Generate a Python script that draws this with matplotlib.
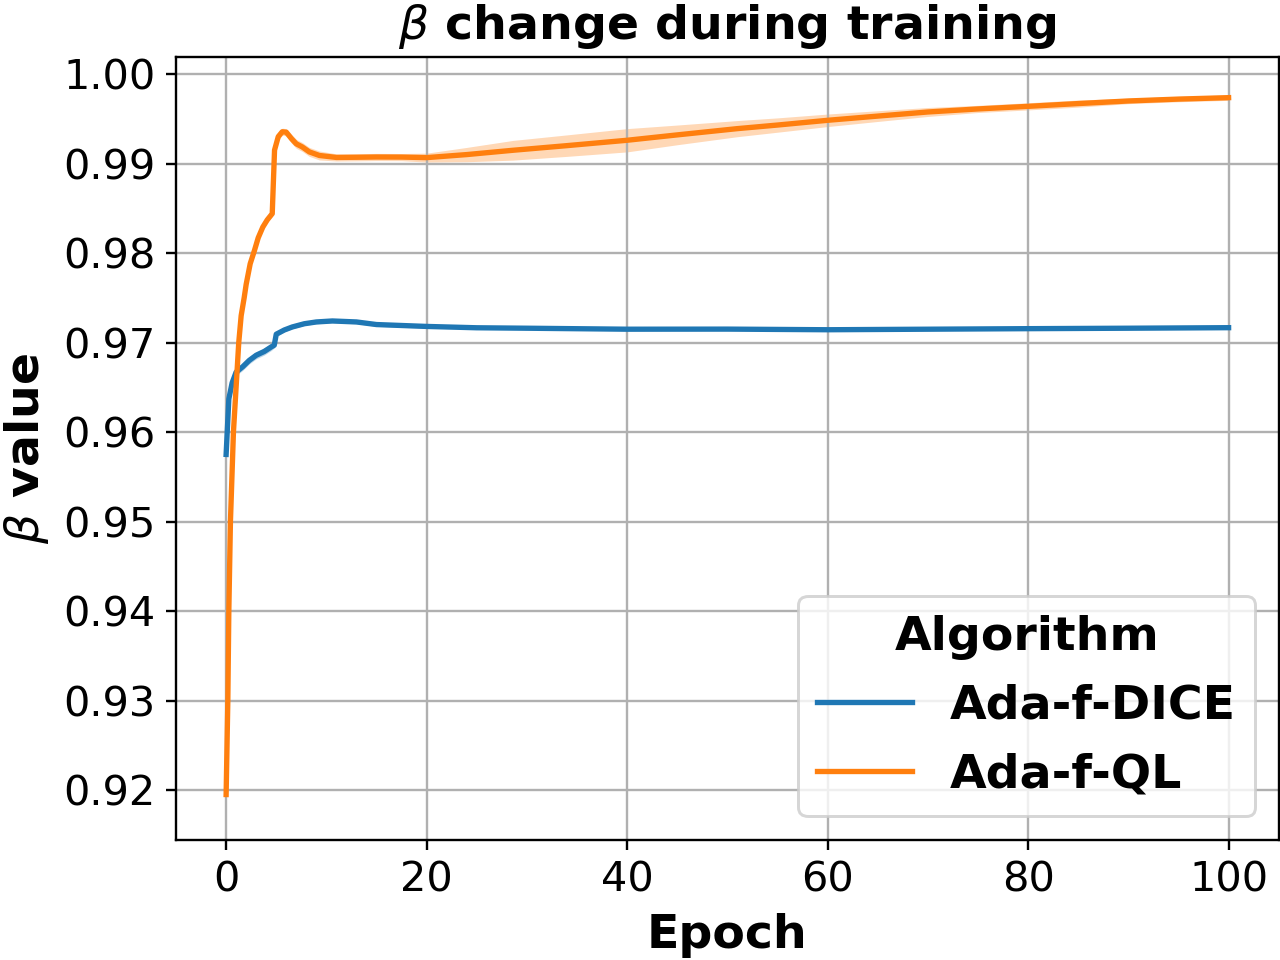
import numpy as np
import matplotlib
matplotlib.use('Agg')
import matplotlib.pyplot as plt

# Ada-f-DICE: media de beta y semiancho de la banda
dice_epoch = [0, 0.27, 0.6, 1.0, 1.66, 2.3, 3.0, 3.8, 4.5, 4.8, 5.0, 5.8, 6.6, 7.8, 9.0,
              10.6, 13, 15, 20, 25, 30, 40, 50, 60, 70, 80, 90, 100]
dice_beta = [0.9575, 0.9637, 0.9655, 0.9667, 0.9673, 0.9680, 0.96858, 0.9690, 0.96951,
             0.9697, 0.97093, 0.9714, 0.97174, 0.9721, 0.97230, 0.97241, 0.9723, 0.97201,
             0.9718, 0.97165, 0.97160, 0.97149, 0.9715, 0.97143, 0.97149, 0.97155,
             0.9716, 0.97166]
dice_spread = [0.0001, 0.0002, 0.0003, 0.0004, 0.0004, 0.0004, 0.0004, 0.0004, 0.0004,
               0.0003, 0.0003, 0.0002, 0.0002, 0.0002, 0.0002, 0.0002, 0.0002, 0.0002,
               0.0002, 0.0001, 0.0001, 0.0001, 0.0001, 0.0001, 0.0001, 0.0001, 0.0001,
               0.0001]

# Ada-f-QL
ql_epoch = [0, 0.17, 0.27, 0.43, 0.73, 1.26, 1.5, 1.8, 2.0, 2.4, 2.83, 3.2, 3.66, 4.1,
            4.6, 4.83, 5.2, 5.6, 6.0, 6.5, 7.0, 7.6, 8.3, 9.3, 11, 13, 15, 17.5, 20, 24,
            28.6, 34, 40, 45, 51, 55, 60, 65, 70, 75, 80, 85, 90, 95, 100]
ql_beta = [0.9195, 0.930, 0.940, 0.950, 0.960, 0.970, 0.9730, 0.9750, 0.9765, 0.9788,
           0.9803, 0.9817, 0.9829, 0.9837, 0.9844, 0.9915, 0.9930, 0.99355, 0.9935,
           0.9928, 0.9922, 0.99185, 0.9913, 0.9909, 0.99068, 0.99070, 0.99073, 0.99072,
           0.99066, 0.9910, 0.99148, 0.9920, 0.99260, 0.9932, 0.99390, 0.9943, 0.99483,
           0.9953, 0.99576, 0.9961, 0.99639, 0.9967, 0.99699, 0.9972, 0.99736]
ql_spread = [0.0001, 0.0001, 0.0001, 0.0001, 0.0001, 0.0001, 0.0002, 0.0002, 0.0002,
             0.0002, 0.0003, 0.0003, 0.0003, 0.0003, 0.0003, 0.0003, 0.0004, 0.0004,
             0.0004, 0.0005, 0.0005, 0.0005, 0.0005, 0.0005, 0.0004, 0.0004, 0.0004,
             0.0004, 0.0005, 0.0008, 0.0011, 0.0012, 0.0013, 0.0011, 0.0009, 0.0008,
             0.0007, 0.0006, 0.0005, 0.0004, 0.0004, 0.0004, 0.0003, 0.0003, 0.0003]

series = [('Ada-f-DICE', dice_epoch, dice_beta, dice_spread, '#1f77b4'),
          ('Ada-f-QL', ql_epoch, ql_beta, ql_spread, '#ff7f0e')]

fig, ax = plt.subplots(figsize=(6, 4.5), dpi=1280 / 6)
for nombre, x, y, s, color in series:
    y = np.array(y)
    s = np.array(s)
    ax.fill_between(x, y - s, y + s, color=color, alpha=0.3, linewidth=0)
    ax.plot(x, y, color=color, lw=1.8, label=nombre)

ax.set_xlim(-5, 105)
ax.set_ylim(0.91442, 1.0019)
ax.set_yticks([0.92, 0.93, 0.94, 0.95, 0.96, 0.97, 0.98, 0.99, 1.00])
ax.grid(True, color='#b0b0b0', lw=0.8)
ax.tick_params(labelsize=14)
ax.set_title(r'$\beta$ change during training', fontsize=16, fontweight='bold')
ax.set_xlabel('Epoch', fontsize=16, fontweight='bold')
ax.set_ylabel(r'$\beta$ value', fontsize=16, fontweight='bold')
leg = ax.legend(title='Algorithm', loc='lower right',
                prop={'size': 16, 'weight': 'bold'})
leg.get_title().set_fontsize(16)
leg.get_title().set_fontweight('bold')

plt.subplots_adjust(left=0.1375, right=0.999, top=0.9406, bottom=0.125)
plt.savefig('out.png')
